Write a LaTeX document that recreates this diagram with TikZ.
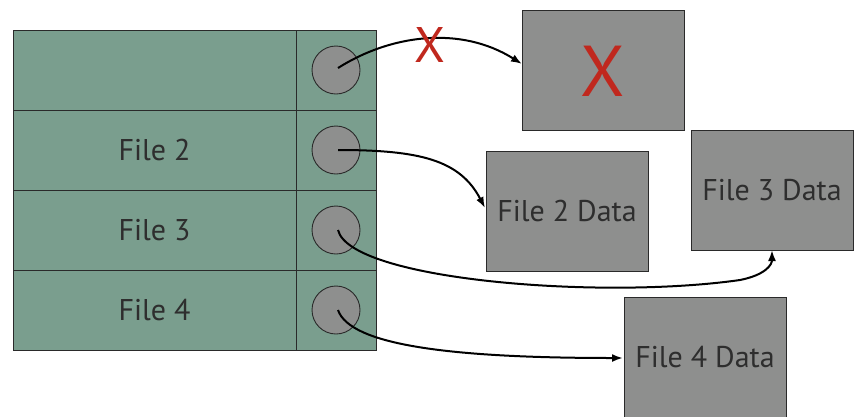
\documentclass[tikz,border=0pt]{standalone}
\usepackage{fontspec}
\setmainfont{PT Sans}
\usetikzlibrary{arrows.meta}
\definecolor{tabfill}{HTML}{7A9E8E}
\definecolor{boxfill}{HTML}{8E8F8E}
\definecolor{edge}{HTML}{2A2A2A}
\definecolor{txt}{HTML}{2E2E2E}
\definecolor{xred}{HTML}{C0281E}
\tikzset{
  cell/.style={draw=edge, fill=tabfill, line width=1pt, minimum height=80pt, inner sep=0pt, text=txt, font=\fontsize{30}{32}\selectfont},
  slot/.style={draw=edge, fill=boxfill, circle, minimum size=48pt, inner sep=0pt, line width=0.9pt},
  databox/.style={draw=edge, fill=boxfill, line width=1pt, minimum width=162pt, minimum height=120pt, inner sep=0pt, text=txt, font=\fontsize{30}{32}\selectfont},
  link/.style={-{Latex[length=11pt,width=8pt]}, line width=2pt, black},
  bigx/.style={text=xred, inner sep=0pt, font=\fontsize{72}{72}\selectfont}
}
\begin{document}
\begin{tikzpicture}[x=1pt,y=-1pt]
\useasboundingbox (0,0) rectangle (854,416);
% table
\node[cell, minimum width=283pt] (r1) at (154.5,70) {};
\node[cell, minimum width=283pt] (r2) at (154.5,150) {File 2};
\node[cell, minimum width=283pt] (r3) at (154.5,230) {File 3};
\node[cell, minimum width=283pt] (r4) at (154.5,310) {File 4};
\node[cell, minimum width=80pt] (p1) at (336,70) {};
\node[cell, minimum width=80pt] (p2) at (336,150) {};
\node[cell, minimum width=80pt] (p3) at (336,230) {};
\node[cell, minimum width=80pt] (p4) at (336,310) {};
\node[slot] (c1) at (336,70) {};
\node[slot] (c2) at (336,150) {};
\node[slot] (c3) at (336,230) {};
\node[slot] (c4) at (336,310) {};
\coordinate (s1) at (338,68);
\coordinate (s2) at (338,150);
\coordinate (s3) at (338,230);
\coordinate (s4) at (338,310);
% data boxes
\node[databox] (bx) at (603,70) {};
\node[bigx] (xx) at (603,71) {X};
\node[databox] (d2) at (567,211) {File 2 Data};
\node[databox] (d3) at (772,190) {File 3 Data};
\node[databox, minimum height=140pt] (d4) at (705,367) {};
\node[text=txt, font=\fontsize{30}{32}\selectfont] (t4) at (705,357) {File 4 Data};
\coordinate (e1) at (522,64);
\coordinate (e2) at (485,208);
\coordinate (e3) at (772,250);
\coordinate (e4) at (623,358);
% connectors
\draw[link] (s1) .. controls (390,35) and (460,25) .. (e1);
\node[bigx, font=\fontsize{50}{50}\selectfont] (x2) at (430,45) {X};
\draw[link] (s2) .. controls (420,150) and (460,160) .. (e2);
\draw[link] (s3) .. controls (350,280) and (600,300) .. (740,280) .. controls (765,275) and (772,265) .. (e3);
\draw[link] (s4) .. controls (350,345) and (450,358) .. (e4);
\end{tikzpicture}
\end{document}
